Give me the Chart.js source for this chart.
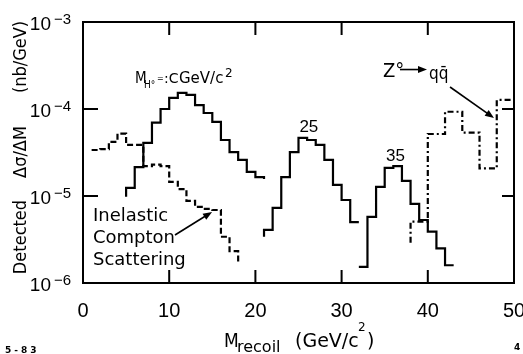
<!DOCTYPE html>
<html>
<head>
<meta charset="utf-8">
<script src="https://cdn.jsdelivr.net/npm/chart.js@4.4.1/dist/chart.umd.min.js"></script>
<style>
  html, body { margin: 0; padding: 0; background: #fff; }
  canvas { display: block; }
</style>
</head>
<body>
<canvas id="recoilChart" width="523" height="354"></canvas>
<script>
// axis ticks
const xTicks = [0, 10, 20, 30, 40, 50];
const yTicks = [1e-6, 1e-5, 1e-4, 1e-3];
const yExponents = ['\u22126', '\u22125', '\u22124', '\u22123'];
const innerXTicks = [10, 20, 30, 40];
const innerYTicks = [1e-5, 1e-4];

// Higgs signal, M_H = 10 GeV/c^2 (1 GeV bins)
const higgs10Edges = [5, 6, 7, 8, 9, 10, 11, 12, 13, 14, 15, 16, 17, 18, 19, 20, 21];
const higgs10Values = [1.24e-5, 2.15e-5, 4.07e-5, 6.97e-5, 1.0e-4, 1.34e-4, 1.53e-4, 1.45e-4,
                       1.11e-4, 9.0e-5, 7.1e-5, 4.4e-5, 3.2e-5, 2.6e-5, 1.89e-5, 1.65e-5];
const higgs10Start = 9.8e-6;
const higgs10End = 1.57e-5;

// M_H = 25 GeV/c^2
const higgs25Edges = [21, 22, 23, 24, 25, 26, 27, 28, 29, 30, 31, 32];
const higgs25Values = [4.07e-6, 7.3e-6, 1.65e-5, 3.2e-5, 4.65e-5, 4.4e-5, 3.86e-5, 2.6e-5,
                       1.34e-5, 9.0e-6, 5.0e-6];
const higgs25Start = 3.4e-6;

// M_H = 35 GeV/c^2
const higgs35Edges = [32, 33, 34, 35, 36, 37, 38, 39, 40, 41, 42, 43];
const higgs35Values = [1.53e-6, 5.74e-6, 1.27e-5, 2.1e-5, 2.2e-5, 1.49e-5, 8.1e-6, 5.3e-6,
                       3.9e-6, 2.5e-6, 1.6e-6];

// inelastic Compton scattering background
const comptonEdges = [1, 2, 3, 4, 5, 6, 7, 8, 9, 10, 11, 12, 13, 14, 15, 16, 17, 18];
const comptonValues = [3.38e-5, 3.46e-5, 4.2e-5, 5.2e-5, 3.86e-5, 3.86e-5, 2.2e-5, 2.3e-5, 2.2e-5,
                       1.45e-5, 1.2e-5, 8.8e-6, 7.5e-6, 7.1e-6, 6.9e-6, 3.4e-6, 2.33e-6];
const comptonEnd = 1.7e-6;

// Z0 -> q qbar background (2 GeV bins)
const zqqEdges = [38, 40, 42, 44, 46, 48, 50];
const zqqValues = [5.07e-6, 5.16e-5, 9.3e-5, 5.35e-5, 2.08e-5, 1.27e-4];
const zqqStart = 2.9e-6;

// turn bin edges + contents into points for a stepped line
function stepPoints(edges, values, startY, endY) {
  const pts = [];
  if (startY !== undefined) pts.push({ x: edges[0], y: startY });
  values.forEach((v, i) => pts.push({ x: edges[i], y: v }));
  pts.push({ x: edges[edges.length - 1], y: values[values.length - 1] });
  if (endY !== undefined) pts.push({ x: edges[edges.length - 1], y: endY });
  return pts;
}

function histo(label, pts, dash) {
  return {
    label: label,
    data: pts,
    stepped: 'before',
    borderColor: '#000',
    borderWidth: 2.2,
    borderDash: dash,
    borderCapStyle: 'butt',
    borderJoinStyle: 'miter',
    pointRadius: 0,
    fill: false
  };
}

function arrow(ctx, x1, y1, x2, y2) {
  const ang = Math.atan2(y2 - y1, x2 - x1);
  const len = 9, half = 3.5;
  ctx.beginPath();
  ctx.moveTo(x1, y1);
  ctx.lineTo(x2 - Math.cos(ang) * len * 0.8, y2 - Math.sin(ang) * len * 0.8);
  ctx.stroke();
  ctx.beginPath();
  ctx.moveTo(x2, y2);
  ctx.lineTo(x2 - Math.cos(ang) * len - Math.sin(ang) * half, y2 - Math.sin(ang) * len + Math.cos(ang) * half);
  ctx.lineTo(x2 - Math.cos(ang) * len + Math.sin(ang) * half, y2 - Math.sin(ang) * len - Math.cos(ang) * half);
  ctx.closePath();
  ctx.fill();
}

function setFont(ctx, spec, narrow) {
  ctx.font = spec;
  ctx.fontStretch = narrow ? 'condensed' : 'normal';
}

// frame, inward ticks, labels and annotations
const paperAxes = {
  id: 'paperAxes',
  afterDraw(chart) {
    const { ctx, chartArea: a, scales: { x, y } } = chart;
    const px = v => x.getPixelForValue(v);
    const py = v => y.getPixelForValue(v);
    ctx.save();
    ctx.strokeStyle = '#000';
    ctx.fillStyle = '#000';
    ctx.lineWidth = 2;
    ctx.strokeRect(a.left, a.top, a.right - a.left, a.bottom - a.top);
    ctx.beginPath();
    innerXTicks.forEach(v => {
      ctx.moveTo(px(v), a.bottom); ctx.lineTo(px(v), a.bottom - 13);
      ctx.moveTo(px(v), a.top); ctx.lineTo(px(v), a.top + 13);
    });
    innerYTicks.forEach(v => {
      ctx.moveTo(a.left, py(v)); ctx.lineTo(a.left + 15, py(v));
      ctx.moveTo(a.right, py(v)); ctx.lineTo(a.right - 12, py(v));
    });
    ctx.stroke();

    // tick labels
    ctx.textBaseline = 'alphabetic';
    ctx.textAlign = 'center';
    setFont(ctx, '20px "Liberation Sans"');
    x.ticks.forEach(t => ctx.fillText(String(t.value), px(t.value), a.bottom + 34));
    y.ticks.forEach((t, i) => {
      const yy = py(t.value);
      ctx.textAlign = 'right';
      setFont(ctx, '19px "Liberation Sans"');
      ctx.fillText('10', 51, yy + 8);
      ctx.textAlign = 'left';
      setFont(ctx, '15px "Liberation Sans"');
      ctx.fillText(yExponents[i], 54, yy + 2);
    });

    // y title
    ctx.save();
    ctx.translate(26, 0);
    ctx.rotate(-Math.PI / 2);
    ctx.textAlign = 'center';
    setFont(ctx, '18px "DejaVu Sans"', true);
    ctx.fillText('Detected', -237, 0);
    ctx.fillText('\u0394\u03c3/\u0394M', -152, 0);
    ctx.fillText('(nb/GeV)', -57, 0);
    ctx.restore();

    // x title
    ctx.textAlign = 'left';
    setFont(ctx, '19px "DejaVu Sans"', true);
    ctx.fillText('M', 224, 347);
    setFont(ctx, '16px "DejaVu Sans"');
    ctx.fillText('recoil', 237, 352);
    setFont(ctx, '19px "DejaVu Sans"');
    ctx.fillText('(GeV/c', 295, 347);
    ctx.fillText(')', 367, 347);
    setFont(ctx, '12px "DejaVu Sans"');
    ctx.fillText('2', 358, 331);

    // peak labels
    ctx.textAlign = 'center';
    setFont(ctx, '17px "Liberation Sans"');
    ctx.fillText('25', px(26.2), py(5.45e-5));
    ctx.fillText('35', px(36.25), py(2.52e-5));

    // M_H label
    ctx.textAlign = 'left';
    const mx = px(6.03), my = py(1.99e-4);
    setFont(ctx, '15px "DejaVu Sans"', true);
    ctx.fillText('M', mx, my);
    setFont(ctx, '10px "DejaVu Sans"', true);
    ctx.fillText('H\u00b0', mx + 9, my + 5);
    setFont(ctx, '8px "DejaVu Sans"');
    ctx.fillText('=', mx + 22, my - 2);
    setFont(ctx, '14px "DejaVu Sans"');
    ctx.fillText(':C', mx + 29, my);
    setFont(ctx, '15px "DejaVu Sans"');
    ctx.fillText('GeV/c', mx + 44, my);
    setFont(ctx, '12px "DejaVu Sans"');
    ctx.fillText('2', mx + 90, my - 6);

    // Compton label + arrow
    const cx = px(1.16), cy = py(5.16e-6);
    setFont(ctx, '18px "DejaVu Sans"');
    ctx.fillText('Inelastic', cx, cy);
    ctx.fillText('Compton', cx, cy + 22);
    ctx.fillText('Scattering', cx, cy + 44);
    ctx.lineWidth = 1.6;
    arrow(ctx, px(10.67), py(3.56e-6), px(14.97), py(6.55e-6));

    // Z0 -> q qbar label + arrows
    const zx = px(34.8), zy = py(2.33e-4);
    setFont(ctx, '20px "DejaVu Sans"', true);
    ctx.fillText('Z\u00b0', zx, zy);
    arrow(ctx, zx + 17, zy - 7.5, zx + 44, zy - 7.5);
    setFont(ctx, '17px "DejaVu Sans"', true);
    ctx.fillText('qq\u0304', zx + 46, zy + 2);
    arrow(ctx, px(42.58), py(1.79e-4), px(47.68), py(7.89e-5));

    // plate numbers
    setFont(ctx, 'bold 9px "DejaVu Sans"');
    ctx.letterSpacing = '3px';
    ctx.fillText('5-83', 5, 353);
    ctx.letterSpacing = '0px';
    ctx.fillText('4', 514, 350);
    ctx.restore();
  }
};

const recoilCtx = document.getElementById('recoilChart').getContext('2d');
const recoilChart = new Chart(recoilCtx, {
  type: 'line',
  data: {
    datasets: [
      histo('M_H = 10', stepPoints(higgs10Edges, higgs10Values, higgs10Start, higgs10End), []),
      histo('M_H = 25', stepPoints(higgs25Edges, higgs25Values, higgs25Start), []),
      histo('M_H = 35', stepPoints(higgs35Edges, higgs35Values), []),
      histo('Inelastic Compton', stepPoints(comptonEdges, comptonValues, undefined, comptonEnd), [6, 3]),
      histo('Z0 -> qq', stepPoints(zqqEdges, zqqValues, zqqStart), [6, 3, 2, 3])
    ]
  },
  options: {
    responsive: false,
    animation: false,
    devicePixelRatio: 1,
    layout: { padding: { top: 22, right: 9, bottom: 0, left: 0 } },
    plugins: { legend: { display: false }, tooltip: { enabled: false } },
    scales: {
      x: {
        type: 'linear', min: 0, max: 50,
        afterBuildTicks: s => { s.ticks = xTicks.map(v => ({ value: v })); },
        afterFit: s => { s.height = 71; s.paddingLeft = 0; s.paddingRight = 0; },
        ticks: { display: false },
        grid: { display: false, drawTicks: false },
        border: { display: false }
      },
      y: {
        type: 'logarithmic', min: 1e-6, max: 1e-3,
        afterBuildTicks: s => { s.ticks = yTicks.map(v => ({ value: v })); },
        afterFit: s => { s.width = 83; },
        ticks: { display: false },
        grid: { display: false, drawTicks: false },
        border: { display: false }
      }
    }
  },
  plugins: [paperAxes]
});
</script>
</body>
</html>
